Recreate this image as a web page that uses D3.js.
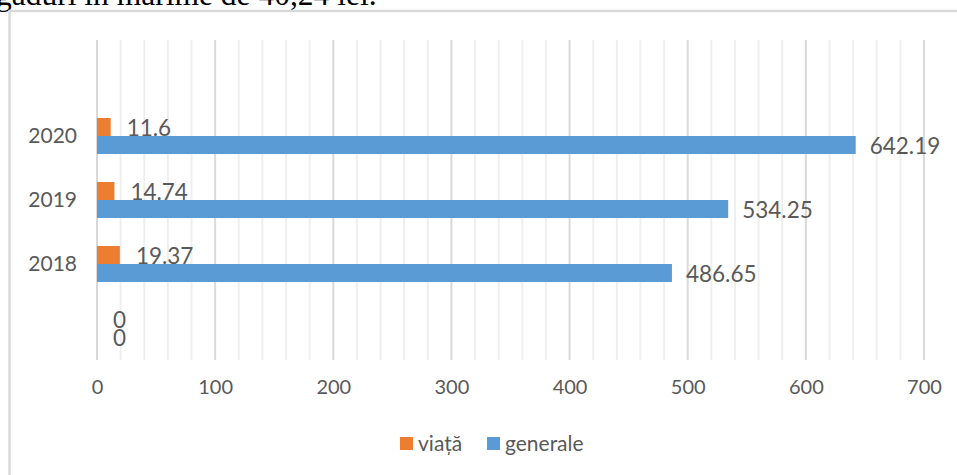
<!DOCTYPE html>
<html>
<head>
<meta charset="utf-8">
<script src="https://cdn.jsdelivr.net/npm/d3@7.9.0/dist/d3.min.js"></script>
<style>
  html, body { margin: 0; padding: 0; background: #fff; }
  svg { display: block; }
</style>
</head>
<body>
<svg id="chart"></svg>
<script>
// Data (categories bottom to top)
const categories = ["", "2018", "2019", "2020", " "];
const viata = [0, 19.37, 14.74, 11.6, null];
const generale = [0, 486.65, 534.25, 642.19, null];
const xTicks = [0, 100, 200, 300, 400, 500, 600, 700];
const seriesNames = ["viață", "generale"];

const W = 957, H = 475;
const font = "Lato, 'Open Sans', sans-serif";
const textColor = "#595959";
const colors = { "viață": "#ED7D31", "generale": "#5B9BD5" };

const svg = d3.select("#chart").attr("width", W).attr("height", H);

// text above the chart, cut at the top of the picture
svg.append("text")
    .attr("x", -4)
    .attr("y", 5)
    .attr("font-family", "'Liberation Serif', 'Times New Roman', serif")
    .attr("font-size", 31.5)
    .attr("fill", "#000")
    .text("găduri în mărime de 40,24 lei.");

// chart frame (only left and top visible)
svg.append("path")
    .attr("d", `M9.5,${H} V11 H${W}`)
    .attr("fill", "none")
    .attr("stroke", "#d9d9d9")
    .attr("stroke-width", 2.5);

const x = d3.scaleLinear().domain([0, 700]).range([97, 924]);
const y = d3.scaleBand().domain(categories.slice().reverse()).range([40, 360]).padding(0);
const barH = 18;

// gridlines: minor every 20, major every 100
const minor = d3.range(0, 701, 20).filter(v => v % 100 !== 0);
svg.append("g").selectAll("line").data(minor).join("line")
    .attr("x1", d => x(d)).attr("x2", d => x(d))
    .attr("y1", 40).attr("y2", 360)
    .attr("stroke", "#efefef").attr("stroke-width", 2);
svg.append("g").selectAll("line").data(xTicks).join("line")
    .attr("x1", d => x(d)).attr("x2", d => x(d))
    .attr("y1", 40).attr("y2", 360)
    .attr("stroke", "#d9d9d9").attr("stroke-width", 2);

// x axis labels
const xAxis = svg.append("g")
    .attr("transform", "translate(0,380)")
    .call(d3.axisBottom(x).tickValues(xTicks).tickSize(0).tickPadding(0));
xAxis.select(".domain").remove();
xAxis.selectAll("text")
    .attr("dy", "0.71em")
    .attr("font-family", font)
    .attr("font-size", 20)
    .attr("fill", textColor);

// y axis labels
const yAxis = svg.append("g")
    .attr("transform", "translate(77,0)")
    .call(d3.axisLeft(y).tickSize(0).tickPadding(0));
yAxis.select(".domain").remove();
yAxis.selectAll("text")
    .attr("font-family", font)
    .attr("font-size", 21)
    .attr("fill", textColor);

const rows = categories.map((c, i) => ({ cat: c, viata: viata[i], generale: generale[i] }))
    .filter(d => d.viata !== null);

// orange bars + labels (drawn first, blue bars overlap the labels)
svg.append("g").selectAll("rect").data(rows).join("rect")
    .attr("x", x(0))
    .attr("y", d => y(d.cat) + y.bandwidth() / 2 - barH)
    .attr("width", d => x(d.viata) - x(0))
    .attr("height", barH)
    .attr("fill", colors["viață"]);
svg.append("g").selectAll("text").data(rows).join("text")
    .attr("x", d => x(d.viata) + 16)
    .attr("y", d => y(d.cat) + y.bandwidth() / 2 - barH / 2 + 1)
    .attr("dy", "0.35em")
    .attr("font-family", font)
    .attr("font-size", 22.5)
    .attr("fill", textColor)
    .text(d => d.viata);

svg.append("g").selectAll("rect").data(rows).join("rect")
    .attr("x", x(0))
    .attr("y", d => y(d.cat) + y.bandwidth() / 2)
    .attr("width", d => x(d.generale) - x(0))
    .attr("height", barH)
    .attr("fill", colors["generale"]);
svg.append("g").selectAll("text").data(rows).join("text")
    .attr("x", d => x(d.generale) + (d.generale === 0 ? 16 : 14))
    .attr("y", d => y(d.cat) + y.bandwidth() / 2 + barH / 2 + 1)
    .attr("dy", "0.35em")
    .attr("font-family", font)
    .attr("font-size", 22.5)
    .attr("fill", textColor)
    .text(d => d.generale);

// legend
const legendX = [400, 487];
const legend = svg.append("g").selectAll("g").data(seriesNames).join("g")
    .attr("transform", (d, i) => `translate(${legendX[i]},437)`);
legend.append("rect")
    .attr("width", 13).attr("height", 13)
    .attr("fill", d => colors[d]);
legend.append("text")
    .attr("x", 18).attr("y", 6.5).attr("dy", "0.35em")
    .attr("font-family", font)
    .attr("font-size", 21)
    .attr("fill", textColor)
    .text(d => d);
</script>
</body>
</html>
